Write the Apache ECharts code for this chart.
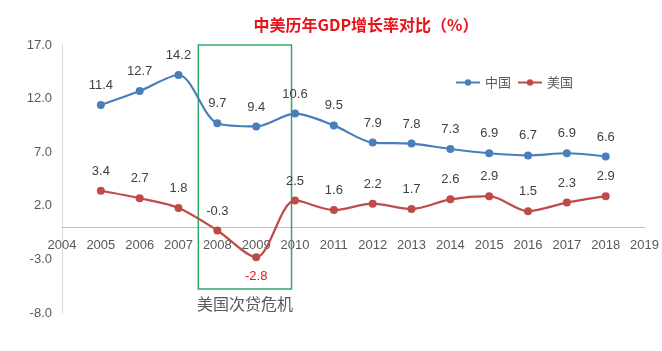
<!DOCTYPE html>
<html>
<head>
<meta charset="utf-8">
<script src="https://cdn.jsdelivr.net/npm/echarts@6/dist/echarts.min.js"></script>
<style>
  html, body { margin: 0; padding: 0; background: #fff; }
  #main { width: 662px; height: 351px; }
</style>
</head>
<body>
<div id="main"></div>
<script>
var years = [2005, 2006, 2007, 2008, 2009, 2010, 2011, 2012, 2013, 2014, 2015, 2016, 2017, 2018];
var china = [11.4, 12.7, 14.2, 9.7, 9.4, 10.6, 9.5, 7.9, 7.8, 7.3, 6.9, 6.7, 6.9, 6.6];
var usa = [3.4, 2.7, 1.8, -0.3, -2.8, 2.5, 1.6, 2.2, 1.7, 2.6, 2.9, 1.5, 2.3, 2.9];
var crisisRange = [2007.51, 2009.91];
var crisisY = [17.3, -5.75];

function pairs(vals) {
    var out = [];
    for (var i = 0; i < years.length; i++) {
        out.push([years[i], vals[i]]);
    }
    return out;
}

var labelFont = 'Liberation Sans, Arial, sans-serif';

var option = {
    animation: false,
    backgroundColor: '#fff',
    title: {
        text: '中美历年GDP增长率对比（%）',
        left: 361,
        top: 12,
        textAlign: 'center',
        textStyle: {
            color: '#e8131a',
            fontSize: 16,
            fontWeight: 'bold',
            fontFamily: 'Noto Sans CJK SC'
        }
    },
    legend: {
        data: ['中国', '美国'],
        left: 450,
        top: 71,
        itemWidth: 24,
        itemHeight: 8,
        itemGap: 6,
        textStyle: { color: '#595959', fontSize: 13, fontFamily: 'Noto Sans CJK SC' }
    },
    grid: { left: 62, right: 11, top: 45, bottom: 38 },
    xAxis: {
        type: 'value',
        min: 2004,
        max: 2019,
        interval: 1,
        position: 'bottom',
        offset: -86,
        axisLine: { onZero: false, lineStyle: { color: '#bfbfbf', width: 1 } },
        axisTick: { show: false },
        splitLine: { show: false },
        axisLabel: {
            color: '#595959',
            fontSize: 13,
            fontFamily: labelFont,
            margin: 12,
            showMinLabel: true,
            showMaxLabel: true,
            formatter: function (v) { return String(v); }
        }
    },
    yAxis: {
        type: 'value',
        min: -8,
        max: 17,
        interval: 5,
        axisLine: { show: true, lineStyle: { color: '#d9d9d9' } },
        axisTick: { show: false },
        splitLine: { show: false },
        axisLabel: {
            color: '#595959',
            fontSize: 13,
            fontFamily: labelFont,
            margin: 10,
            formatter: function (v) { return v.toFixed(1); }
        }
    },
    series: [
        {
            name: '中国',
            type: 'line',
            smooth: 0.3,
            data: pairs(china),
            symbol: 'circle',
            symbolSize: 8,
            itemStyle: { color: '#4a7ebb' },
            lineStyle: { width: 2.2, color: '#4a7ebb' },
            label: {
                show: true,
                position: 'top',
                distance: 9,
                color: '#404040',
                fontSize: 13,
                fontFamily: labelFont,
                formatter: function (p) { return p.value[1].toFixed(1); }
            }
        },
        {
            name: '美国',
            type: 'line',
            smooth: 0.3,
            clip: false,
            data: pairs(usa).map(function (d, i) {
                if (usa[i] === -2.8) {
                    return {
                        value: d,
                        label: { position: 'bottom', color: '#e8131a' }
                    };
                }
                return d;
            }),
            symbol: 'circle',
            symbolSize: 8,
            itemStyle: { color: '#be4b48' },
            lineStyle: { width: 2.2, color: '#be4b48' },
            label: {
                show: true,
                position: 'top',
                distance: 9,
                color: '#404040',
                fontSize: 13,
                fontFamily: labelFont,
                formatter: function (p) { return p.value[1].toFixed(1); }
            },
            markArea: {
                silent: true,
                itemStyle: {
                    color: 'rgba(0,0,0,0)',
                    borderColor: '#2ea866',
                    borderWidth: 1.5
                },
                label: {
                    show: true,
                    position: 'bottom',
                    distance: 6,
                    color: '#595959',
                    fontSize: 16,
                    fontFamily: 'Noto Sans CJK SC'
                },
                data: [[
                    { name: '美国次贷危机', coord: [crisisRange[0], crisisY[0]] },
                    { coord: [crisisRange[1], crisisY[1]] }
                ]]
            }
        }
    ]
};

var myChart = echarts.init(document.getElementById('main'));
myChart.setOption(option);
</script>
</body>
</html>
